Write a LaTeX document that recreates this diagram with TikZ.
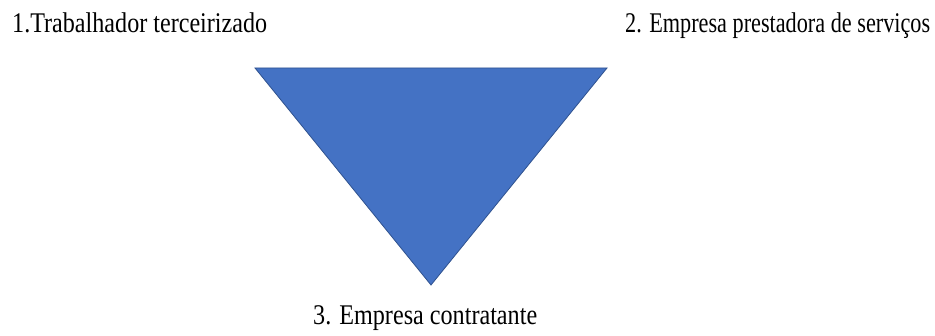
\documentclass[tikz,border=0pt]{standalone}
\usepackage{fontspec}
\setmainfont{Liberation Serif}
\definecolor{triblue}{HTML}{4472C4}
\definecolor{triedge}{HTML}{2F528F}
\tikzset{
  lbl/.style={anchor=base west, inner sep=0pt, font=\fontsize{28.5}{34}\selectfont},
  tri/.style={fill=triblue, draw=triedge, line width=0.8pt, line join=miter}
}
\newcommand{\fitw}[2]{\resizebox{#1}{\height}{#2}}
\begin{document}
\begin{tikzpicture}[x=1pt,y=1pt]
\useasboundingbox (0,0) rectangle (935,336);
\coordinate (tl) at (255,268);
\coordinate (tr) at (607,268);
\coordinate (bt) at (431,51);
\draw[tri] (tl) -- (tr) -- (bt) -- cycle;
\node[lbl] (t1) at (12,303) {\fitw{255pt}{1.Trabalhador terceirizado}};
\node[lbl] (t2) at (625,303) {\fitw{305pt}{2. Empresa prestadora de serviços}};
\node[lbl] (t3) at (313,11) {\fitw{224pt}{3. Empresa contratante}};
\end{tikzpicture}
\end{document}
